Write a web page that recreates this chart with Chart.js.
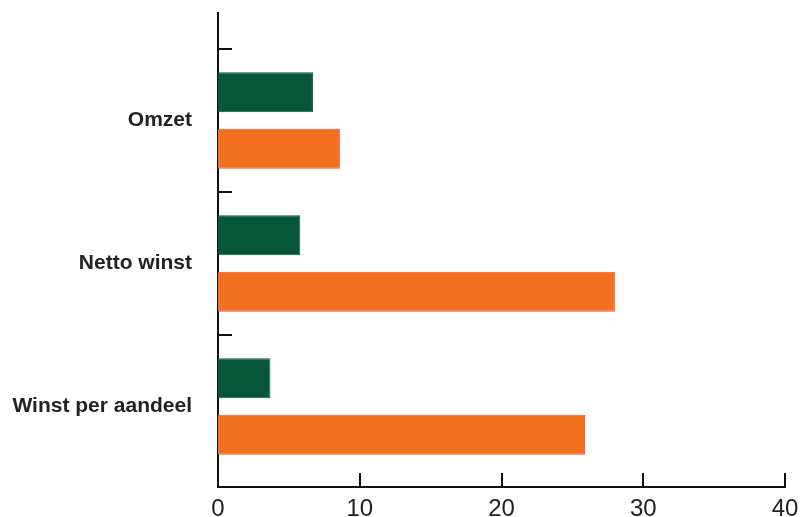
<!DOCTYPE html>
<html>
<head>
<meta charset="utf-8">
<script src="https://cdn.jsdelivr.net/npm/chart.js@4/dist/chart.umd.min.js"></script>
<style>
  html, body { margin: 0; padding: 0; background: #fff; }
  #wrap { width: 802px; height: 517px; }
</style>
</head>
<body>
<div id="wrap"><canvas id="bar-chart"></canvas></div>
<script>
const categories = ["Omzet", "Netto winst", "Winst per aandeel"];
const greenValues = [6.7, 5.8, 3.7];
const orangeValues = [8.6, 28.0, 25.9];
const xTicks = [0, 10, 20, 30, 40];

const toPoints = (vals) => vals.map((v, i) => ({ x: v, y: i }));

// small tick marks drawn on the inside of both axes
const innerTicks = {
  id: "innerTicks",
  afterDraw(chart) {
    const ctx = chart.ctx;
    const xs = chart.scales.x;
    const ys = chart.scales.y;
    ctx.save();
    ctx.strokeStyle = "#111";
    ctx.lineWidth = 2;
    ctx.beginPath();
    categories.forEach((c, i) => {
      const py = Math.round(ys.getPixelForValue(i - 0.5));
      ctx.moveTo(xs.left, py);
      ctx.lineTo(xs.left + 14, py);
    });
    xTicks.slice(1).forEach((t) => {
      const px = Math.round(xs.getPixelForValue(t));
      ctx.moveTo(px, ys.bottom);
      ctx.lineTo(px, ys.bottom - 14);
    });
    ctx.stroke();
    ctx.restore();
  },
};

const data_bar = {
  datasets: [
    {
      label: "green",
      data: toPoints(greenValues),
      backgroundColor: "#06573a",
      borderColor: "#0b5e40",
      borderWidth: 1,
    },
    {
      label: "orange",
      data: toPoints(orangeValues),
      backgroundColor: "#f37021",
      borderColor: "#ea5245",
      borderWidth: 1,
    },
  ],
};

const config_bar = {
  type: "bar",
  data: data_bar,
  options: {
    indexAxis: "y",
    responsive: true,
    maintainAspectRatio: false,
    animation: false,
    categoryPercentage: 0.79,
    barPercentage: 0.71,
    layout: { autoPadding: false, padding: { top: 13, right: 17, left: 12, bottom: 0 } },
    plugins: {
      legend: { display: false },
      tooltip: { enabled: false },
    },
    scales: {
      x: {
        type: "linear",
        min: 0,
        max: 40,
        offset: false,
        afterBuildTicks: (scale) => {
          scale.ticks = xTicks.map((v) => ({ value: v }));
        },
        afterFit: (scale) => {
          scale.height = 30;
          scale.paddingLeft = 0;
          scale.paddingRight = 0;
        },
        grid: { display: false, drawTicks: false },
        border: { color: "#111", width: 2 },
        ticks: {
          padding: 10,
          color: "#222",
          font: { family: "Liberation Sans", size: 24, lineHeight: 1 },
          maxRotation: 0,
        },
      },
      y: {
        type: "linear",
        reverse: true,
        offset: false,
        min: -0.752,
        max: 2.563,
        afterBuildTicks: (scale) => {
          scale.ticks = categories.map((c, i) => ({ value: i }));
        },
        afterFit: (scale) => {
          scale.width = 206;
          scale.paddingTop = 0;
          scale.paddingBottom = 0;
        },
        grid: { display: false, drawTicks: false, offset: false },
        border: { color: "#111", width: 2 },
        ticks: {
          padding: 26,
          color: "#222",
          font: { family: "Liberation Sans", size: 21, weight: "bold" },
          callback: (v) => categories[v],
        },
      },
    },
  },
  plugins: [innerTicks],
};

var ctx_bar = document.getElementById("bar-chart").getContext("2d");
var myChart_bar = new Chart(ctx_bar, config_bar);
</script>
</body>
</html>
